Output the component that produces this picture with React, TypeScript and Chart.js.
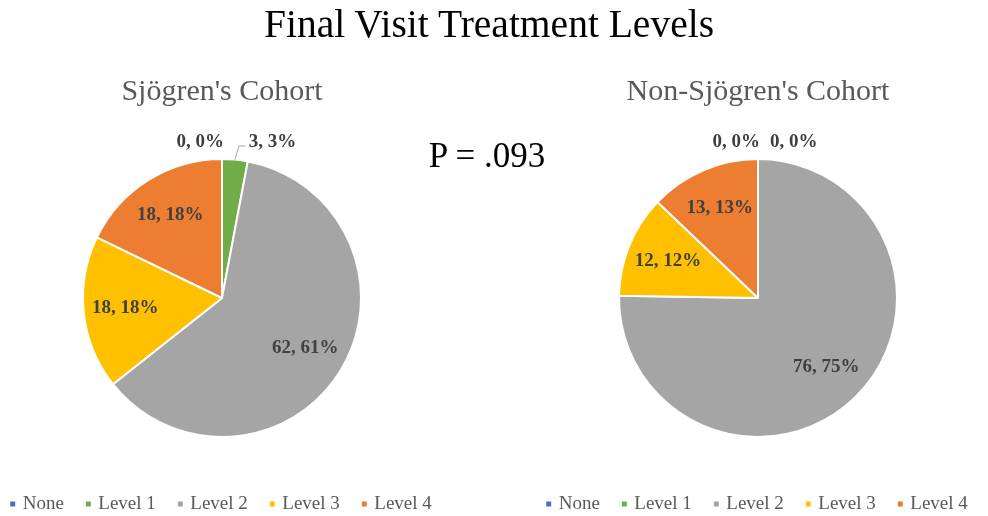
import React, { useEffect, useRef } from "react";
import { Chart, registerables } from "chart.js";

Chart.register(...registerables);

// ---- data ----
const categories = ["None", "Level 1", "Level 2", "Level 3", "Level 4"];
const sjogrenValues = [0, 3, 62, 18, 18];
const nonSjogrenValues = [0, 0, 76, 12, 13];
const sliceColors = ["#4472C4", "#70AD47", "#A5A5A5", "#FFC000", "#ED7D31"];
const mainTitle = "Final Visit Treatment Levels";
const pValueText = "P = .093";
const leftTitle = "Sjögren's Cohort";
const rightTitle = "Non-Sjögren's Cohort";

const SERIF = "'Liberation Serif', 'Times New Roman', Times, serif";
const CANVAS_W = 520;

const labelPlugin = {
  id: "sliceLabels",
  afterDatasetsDraw(chart: any) {
    const ctx = chart.ctx as CanvasRenderingContext2D;
    const meta = chart.getDatasetMeta(0);
    const data = chart.data.datasets[0].data as number[];
    const total = data.reduce((a, b) => a + b, 0);
    ctx.save();
    ctx.font = `bold 19px ${SERIF}`;
    ctx.fillStyle = "#404040";
    ctx.textBaseline = "middle";
    let outsideCount = 0;
    meta.data.forEach((arc: any, i: number) => {
      const { x, y, startAngle, endAngle, outerRadius } = arc.getProps(
        ["x", "y", "startAngle", "endAngle", "outerRadius"],
        true
      );
      const v = data[i];
      const pct = Math.round((v / total) * 100);
      const text = `${v}, ${pct}%`;
      const mid = (startAngle + endAngle) / 2;
      if (pct >= 5) {
        const rr = outerRadius * 0.7;
        ctx.textAlign = "center";
        ctx.fillText(text, x + Math.cos(mid) * rr, y + Math.sin(mid) * rr);
      } else {
        const ly = y - outerRadius - 17;
        const ax = x + Math.cos(mid) * (outerRadius + 18);
        if (outsideCount === 0) {
          ctx.textAlign = "right";
          ctx.fillText(text, x + 2, ly);
        } else {
          const lx = Math.max(ax + 12, x + 9);
          ctx.textAlign = "left";
          ctx.fillText(text, lx, ly);
          if (v > 0) {
            const sx = x + Math.cos(mid) * outerRadius;
            const sy = y + Math.sin(mid) * outerRadius;
            ctx.strokeStyle = "#A6A6A6";
            ctx.lineWidth = 1;
            ctx.beginPath();
            ctx.moveTo(sx, sy);
            ctx.lineTo(sx + 4, ly + 4);
            ctx.lineTo(lx - 3, ly + 4);
            ctx.stroke();
          }
        }
        outsideCount++;
      }
    });
    ctx.restore();
  },
};

function makeConfig(values: number[], title: string): any {
  return {
    type: "pie",
    data: {
      labels: categories,
      datasets: [
        {
          data: values,
          backgroundColor: sliceColors,
          borderColor: "#FFFFFF",
          borderWidth: 2,
        },
      ],
    },
    options: {
      responsive: false,
      animation: false,
      radius: 139,
      layout: { padding: { top: 0, bottom: -7.5, left: 0, right: 0 } },
      plugins: {
        title: {
          display: true,
          text: title,
          color: "#595959",
          font: { family: SERIF, size: 30, weight: "normal" },
          padding: { top: 74, bottom: 15.5 },
        },
        legend: {
          display: true,
          position: "bottom",
          labels: {
            usePointStyle: true,
            pointStyle: "rect",
            boxWidth: 1,
            boxHeight: 5,
            padding: 24,
            color: "#595959",
            font: { family: SERIF, size: 19 },
            generateLabels: (chart: any) => {
              const items = (Chart as any).overrides.pie.plugins.legend.labels.generateLabels(chart);
              return items.map((it: any) => ({ ...it, lineWidth: 0, strokeStyle: "rgba(0,0,0,0)" }));
            },
          },
        },
        tooltip: { enabled: false },
      },
    },
    plugins: [labelPlugin],
  };
}

function PieCanvas({ values, title, center }: { values: number[]; title: string; center: number }) {
  const ref = useRef<HTMLCanvasElement | null>(null);
  useEffect(() => {
    if (!ref.current) return;
    const chart = new Chart(ref.current, makeConfig(values, title));
    return () => chart.destroy();
  }, [values, title]);
  return (
    <canvas
      ref={ref}
      width={CANVAS_W}
      height={516}
      style={{ position: "absolute", left: center - CANVAS_W / 2, top: 0, width: CANVAS_W, height: 516 }}
    />
  );
}

export default function App() {
  return (
    <div
      style={{
        position: "absolute",
        left: 0,
        top: 0,
        width: 988,
        height: 516,
        background: "#FFFFFF",
        overflow: "hidden",
      }}
    >
      <PieCanvas values={sjogrenValues} title={leftTitle} center={222} />
      <PieCanvas values={nonSjogrenValues} title={rightTitle} center={758} />
      <div
        style={{
          position: "absolute",
          left: 189,
          top: 5,
          width: 600,
          textAlign: "center",
          fontFamily: SERIF,
          fontSize: 39.5,
          lineHeight: "39.5px",
          color: "#000000",
          whiteSpace: "nowrap",
        }}
      >
        {mainTitle}
      </div>
      <div
        style={{
          position: "absolute",
          left: 387,
          top: 138,
          width: 200,
          textAlign: "center",
          fontFamily: SERIF,
          fontSize: 35,
          lineHeight: "35px",
          color: "#000000",
          whiteSpace: "nowrap",
        }}
      >
        {pValueText}
      </div>
    </div>
  );
}
